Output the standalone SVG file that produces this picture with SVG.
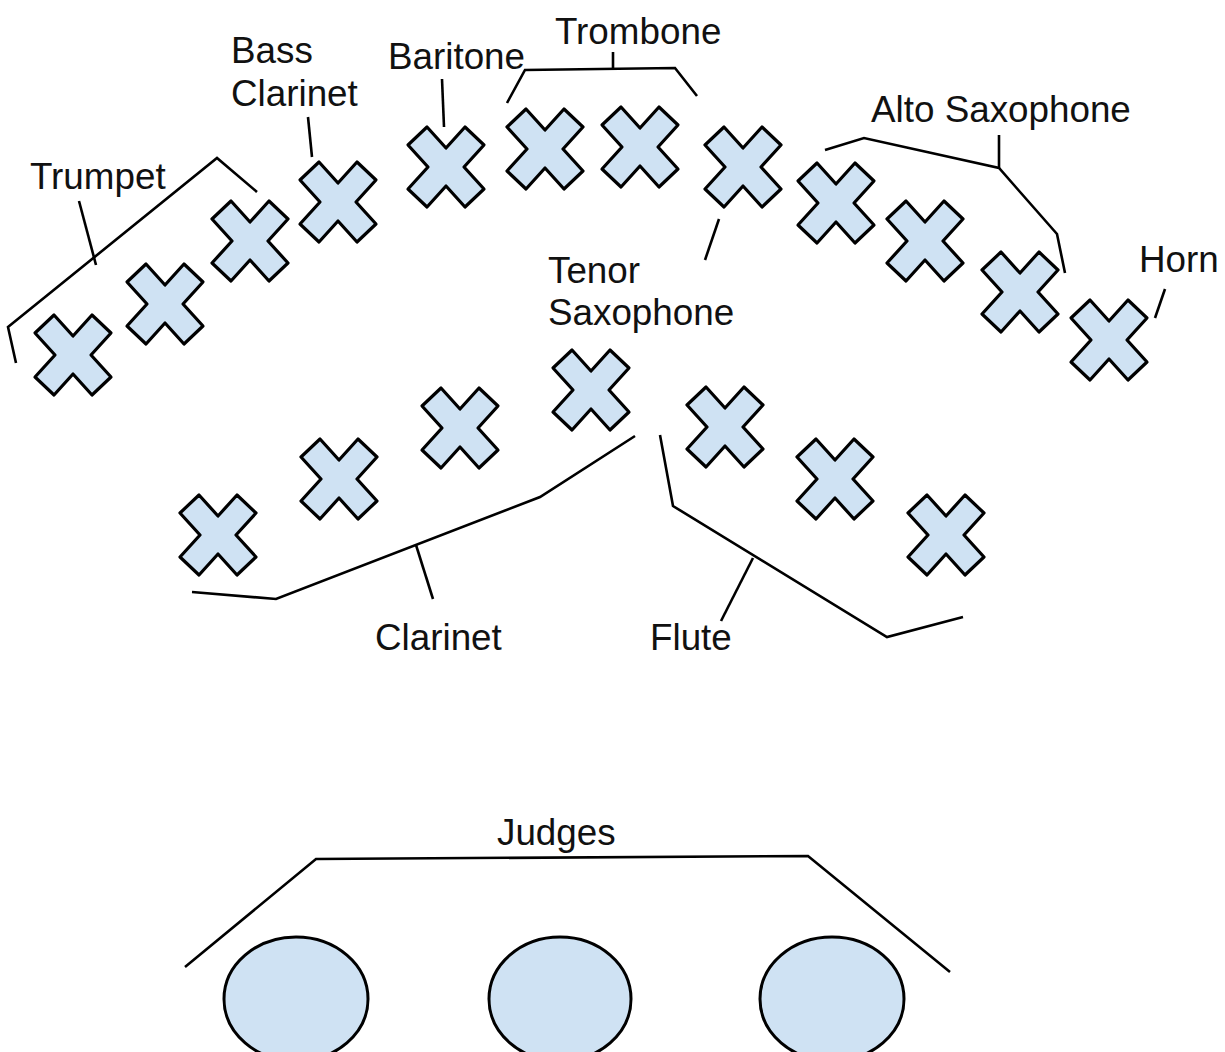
<svg xmlns="http://www.w3.org/2000/svg" xmlns:xlink="http://www.w3.org/1999/xlink" width="1225" height="1052" viewBox="0 0 1225 1052">
  <style>
    .seat { fill: #cfe2f3; stroke: #000; stroke-width: 3.2; stroke-linejoin: round; }
    .judge { fill: #cfe2f3; stroke: #000; stroke-width: 3; }
    .bracket { fill: none; stroke: #000; stroke-width: 2.6; stroke-linejoin: miter; }
    .label { font-family: "Liberation Sans", Arial, sans-serif; font-size: 36.8px; fill: #111; }
  </style>
  <defs>
    <!-- one player position: a plus sign turned 45 degrees -->
    <polygon id="seat" class="seat" points="-38,-22 -19,-40 0,-19 19,-40 38,-22 18,0 38,22 19,40 0,19 -19,40 -38,22 -18,0"/>
  </defs>
  <rect width="1225" height="1052" fill="#fff"/>

  <!-- back arc of players -->
  <g id="back-row">
    <use xlink:href="#seat" href="#seat" transform="translate(73,355)"/>
    <use xlink:href="#seat" href="#seat" transform="translate(165,304)"/>
    <use xlink:href="#seat" href="#seat" transform="translate(250,241)"/>
    <use xlink:href="#seat" href="#seat" transform="translate(338,202)"/>
    <use xlink:href="#seat" href="#seat" transform="translate(446,167)"/>
    <use xlink:href="#seat" href="#seat" transform="translate(545,149)"/>
    <use xlink:href="#seat" href="#seat" transform="translate(640,147)"/>
    <use xlink:href="#seat" href="#seat" transform="translate(743,167)"/>
    <use xlink:href="#seat" href="#seat" transform="translate(836,203)"/>
    <use xlink:href="#seat" href="#seat" transform="translate(925,241)"/>
    <use xlink:href="#seat" href="#seat" transform="translate(1020,292)"/>
    <use xlink:href="#seat" href="#seat" transform="translate(1109,340)"/>
  </g>

  <!-- front arc of players -->
  <g id="front-row">
    <use xlink:href="#seat" href="#seat" transform="translate(218,535)"/>
    <use xlink:href="#seat" href="#seat" transform="translate(339,479)"/>
    <use xlink:href="#seat" href="#seat" transform="translate(460,428)"/>
    <use xlink:href="#seat" href="#seat" transform="translate(591,390)"/>
    <use xlink:href="#seat" href="#seat" transform="translate(725,427)"/>
    <use xlink:href="#seat" href="#seat" transform="translate(835,479)"/>
    <use xlink:href="#seat" href="#seat" transform="translate(946,535)"/>
  </g>

  <!-- judges' table -->
  <g id="judges">
    <ellipse class="judge" cx="296" cy="999" rx="72" ry="62"/>
    <ellipse class="judge" cx="560" cy="999" rx="71" ry="62"/>
    <ellipse class="judge" cx="832" cy="999" rx="72" ry="62"/>
  </g>

  <!-- section brackets and pointer ticks -->
  <g id="connectors">
    <polyline class="bracket" points="16,363 8,327 217,158 257,192"/>
    <line class="bracket" x1="79" y1="201" x2="96" y2="265"/>
    <line class="bracket" x1="308" y1="117" x2="312" y2="157"/>
    <line class="bracket" x1="442" y1="79" x2="444" y2="127"/>
    <polyline class="bracket" points="507,103 525,70 675,68 697,96"/>
    <line class="bracket" x1="613" y1="52" x2="613" y2="70"/>
    <line class="bracket" x1="719" y1="219" x2="705" y2="260"/>
    <polyline class="bracket" points="825,150 864,138 999,168 1057,234 1065,273"/>
    <line class="bracket" x1="999" y1="135" x2="999" y2="168"/>
    <line class="bracket" x1="1165" y1="289" x2="1155" y2="318"/>
    <polyline class="bracket" points="192,592 276,599 540,497 635,436"/>
    <line class="bracket" x1="416" y1="545" x2="433" y2="599"/>
    <polyline class="bracket" points="660,435 673,506 887,637 963,617"/>
    <line class="bracket" x1="753" y1="558" x2="721" y2="621"/>
    <polyline class="bracket" points="185,967 316,859 808,856 950,972"/>
  </g>

  <!-- section names -->
  <g id="labels">
    <text class="label" x="30" y="189">Trumpet</text>
    <text class="label" x="231" y="63">Bass</text>
    <text class="label" x="231" y="106">Clarinet</text>
    <text class="label" x="388" y="69">Baritone</text>
    <text class="label" x="555" y="44">Trombone</text>
    <text class="label" x="871" y="122">Alto Saxophone</text>
    <text class="label" x="1139" y="272">Horn</text>
    <text class="label" x="548" y="283">Tenor</text>
    <text class="label" x="548" y="325">Saxophone</text>
    <text class="label" x="375" y="650">Clarinet</text>
    <text class="label" x="650" y="650">Flute</text>
    <text class="label" x="497" y="845">Judges</text>
  </g>
</svg>
